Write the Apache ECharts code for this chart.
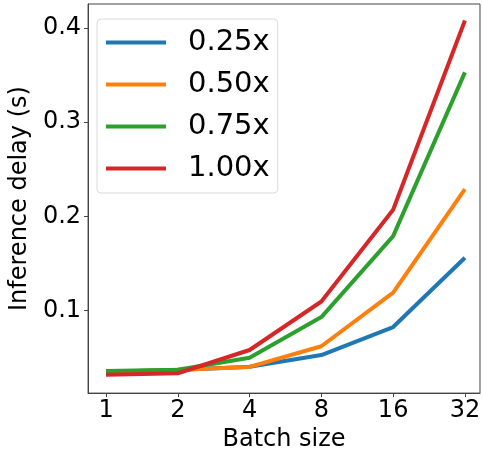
<!DOCTYPE html>
<html><head><meta charset="utf-8">
<script src="https://cdn.jsdelivr.net/npm/echarts@6/dist/echarts.min.js"></script>
<style>html,body{margin:0;padding:0;background:#fff}#c{width:483px;height:457px}</style>
</head><body><div id="c"></div>
<script>
var batchSizes = ['1', '2', '4', '8', '16', '32'];
var s025 = [0.035, 0.0368, 0.0403, 0.0526, 0.0824, 0.156];
var s050 = [0.0345, 0.037, 0.040, 0.062, 0.119, 0.229];
var s075 = [0.0358, 0.037, 0.0498, 0.093, 0.179, 0.353];
var s100 = [0.0316, 0.0333, 0.058, 0.1095, 0.207, 0.408];
var seriesNames = ['0.25x', '0.50x', '0.75x', '1.00x'];
var yTicks = [0.1, 0.2, 0.3, 0.4];
var colors = ['#1f77b4', '#ff7f0e', '#2ca02c', '#d62728'];

var all = [s025, s050, s075, s100];
var xIdx = batchSizes.map(function (_, i) { return i; });
var font = 'DejaVu Sans';
var chart = echarts.init(document.getElementById('c'), null, {renderer: 'canvas'});
chart.setOption({
  animation: false,
  backgroundColor: '#fff',
  grid: {left: 83, top: 4, width: 399.5, height: 393, show: true, borderColor: '#444', borderWidth: 1, backgroundColor: 'transparent'},
  xAxis: {
    type: 'value', min: -0.25, max: 5.21,
    name: 'Batch size', nameLocation: 'middle', nameGap: 32,
    nameTextStyle: {fontFamily: font, fontSize: 24, color: '#000'},
    axisLine: {show: true, onZero: false, lineStyle: {color: '#444', width: 1}},
    axisTick: {show: true, length: 4, lineStyle: {color: '#444'}, customValues: xIdx},
    axisLabel: {customValues: xIdx, fontFamily: font, fontSize: 24, color: '#000', margin: 6,
      formatter: function (v) { return batchSizes[Math.round(v)]; }},
    splitLine: {show: false}
  },
  yAxis: {
    type: 'value', min: 0.0122, max: 0.4256,
    name: 'Inference delay (s)', nameLocation: 'middle', nameGap: 50,
    nameTextStyle: {fontFamily: font, fontSize: 24, color: '#000'},
    axisLine: {show: true, onZero: false, lineStyle: {color: '#444', width: 1}},
    axisTick: {show: true, length: 4, lineStyle: {color: '#444'}, customValues: yTicks},
    axisLabel: {customValues: yTicks, fontFamily: font, fontSize: 24, color: '#000', margin: 7,
      formatter: function (v) { return v.toFixed(1); }},
    splitLine: {show: false}
  },
  legend: {
    orient: 'vertical', left: 97, top: 19,
    backgroundColor: '#fff', borderColor: '#d9d9d9', borderWidth: 1, borderRadius: 4,
    padding: [9, 8, 10, 9], itemGap: 13, itemWidth: 60, itemHeight: 4,
    textStyle: {fontFamily: font, fontSize: 29, color: '#000', padding: [0, 0, 0, 17]},
    data: seriesNames.map(function (n) { return {name: n, icon: 'rect'}; })
  },
  series: all.map(function (arr, k) {
    return {
      name: seriesNames[k], type: 'line', showSymbol: false, symbol: 'none',
      color: colors[k],
      lineStyle: {width: 4, color: colors[k], cap: 'butt', join: 'round'},
      data: arr.map(function (v, i) { return [xIdx[i], v]; })
    };
  })
});
</script></body></html>
